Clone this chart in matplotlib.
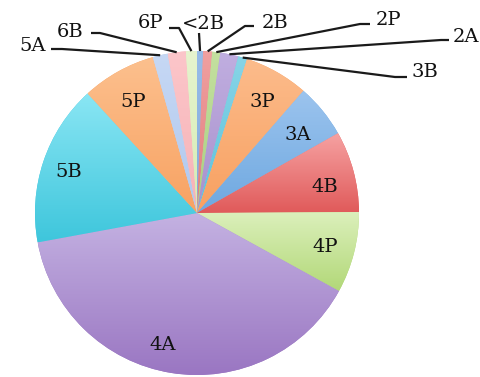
import numpy as np
import matplotlib
matplotlib.use("Agg")
import matplotlib.pyplot as plt
from matplotlib.colors import to_rgb

W, H = 481, 377

labels = ['<2B', '2B', '2P', '2A', '3B', '3P', '3A', '4B', '4P', '4A',
          '5B', '5P', '5A', '6B', '6P']
shares = [0.6, 0.9, 0.8, 1.8, 0.9, 6.4, 5.4, 8.1, 8.1, 39.1,
          16.1, 7.4, 1.5, 1.8, 1.1]

# light (top) / dark (bottom) ends of each wedge's gradient
top_colors = ['#98bce8', '#f0a0a0', '#c4e0a0', '#c0aee0', '#88d4e6',
              '#fcbc8c', '#9cc4ee', '#f6a2a2', '#dcf0bc', '#c4b2e2',
              '#8ae6f4', '#fcc08e', '#c6d8f4', '#fcc6ca', '#e6f4ce']
bottom_colors = ['#80aadc', '#e07c7c', '#a8d080', '#a890cc', '#5cc2dc',
                 '#f8a060', '#6ea8e0', '#e05a5a', '#b2d878', '#9a76c2',
                 '#3ec6dc', '#f8a262', '#b0c8ee', '#f6b2b6', '#d6ecb4']

# inside label centres (pixels from top-left)
inside = {'3P': (262, 102), '3A': (298, 135), '4B': (325, 187), '4P': (325, 247),
          '4A': (163, 345), '5B': (69, 172), '5P': (133, 102)}

# outside label layout: text anchor, alignment, leader start, leader elbow
outside = {
    '5A':  ((46, 46), 'right', (51, 49), (62, 49)),
    '6B':  ((84, 32), 'right', (91, 33), (100, 33)),
    '6P':  ((163, 23), 'right', (169, 28), (179, 28)),
    '<2B': ((203, 33), 'center', (199, 33), (199, 33)),
    '2B':  ((262, 23), 'left', (254, 26), (245, 26)),
    '2P':  ((376, 20), 'left', (370, 24), (360, 24)),
    '2A':  ((453, 37), 'left', (449, 40), (441, 40)),
    '3B':  ((412, 72), 'left', (407, 77), (395, 77)),
}

cx, cy, R = 197, H - 213, 162

fig = plt.figure(figsize=(W / 100, H / 100), dpi=100)
ax = fig.add_axes([0, 0, 1, 1])

wedges, _ = ax.pie(shares, colors=bottom_colors, startangle=90, counterclock=False,
                   radius=R, center=(cx, cy), frame=True,
                   wedgeprops=dict(linewidth=0))
ax.set_xlim(0, W)
ax.set_ylim(0, H)
ax.axis('off')

grad = np.linspace(0, 1, 256)[:, None]
for w, c0, c1 in zip(wedges, top_colors, bottom_colors):
    ext = w.get_path().get_extents()
    a, b = np.array(to_rgb(c1)), np.array(to_rgb(c0))
    img = a[None, None, :] * (1 - grad[:, :, None]) + b[None, None, :] * grad[:, :, None]
    im = ax.imshow(img, extent=(ext.x0, ext.x1, ext.y0, ext.y1), origin='lower',
                   aspect='auto', interpolation='bilinear', zorder=w.get_zorder() + 0.1)
    im.set_clip_path(w)

font = dict(family=['DejaVu Serif'], fontsize=14, color='#111111')

for w, lab in zip(wedges, labels):
    if lab in inside:
        tx, ty = inside[lab]
        ax.text(tx, H - ty, lab, ha='center', va='center', zorder=5, **font)
    else:
        mid = np.deg2rad((w.theta1 + w.theta2) / 2)
        (tx, ty), ha, (sx, sy), (ex, ey) = outside[lab]
        px, py = cx + R * np.cos(mid), cy + R * np.sin(mid)
        ax.plot([sx, ex, px], [H - sy, H - ey, py], color='#1a1a1a', lw=1.6,
                zorder=6, solid_capstyle='butt')
        va = 'bottom' if lab == '<2B' else 'center'
        ax.text(tx, H - ty, lab, ha=ha, va=va, zorder=6, **font)

fig.savefig('out.png', dpi=100)
